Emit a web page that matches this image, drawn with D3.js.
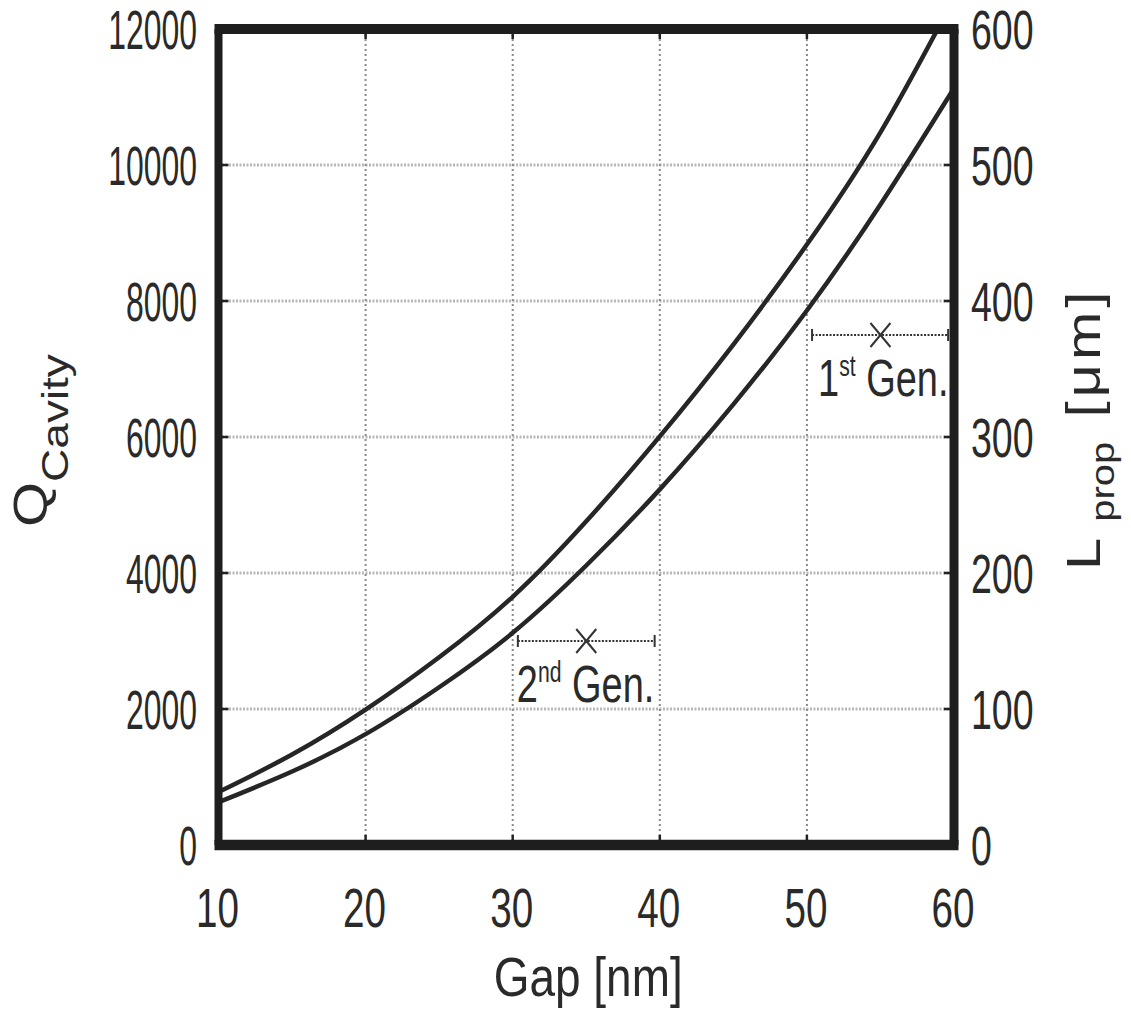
<!DOCTYPE html>
<html><head><meta charset="utf-8">
<script src="https://cdn.jsdelivr.net/npm/d3@7"></script>
<style>
body{margin:0;background:#fff}
svg{display:block}
text{font-family:"Liberation Sans",Arial,Helvetica,sans-serif;fill:#2a2a2a}
</style>
</head><body>
<svg id="chart" width="1131" height="1034"></svg>
<script>
// ---- data ----
const gapNm   = [10, 15, 20, 25, 30, 35, 40, 45, 50, 55, 60];
const qCavity = [780, 1330, 1990, 2760, 3650, 4760, 6010, 7360, 8830, 10480, 12450];
const lProp   = [31.5, 54, 81.5, 116, 156, 205.5, 261.5, 324, 393, 471, 556.5]; // µm
const xTicks  = [10, 20, 30, 40, 50, 60];
const qTicks  = [0, 2000, 4000, 6000, 8000, 10000, 12000];
const lTicks  = [0, 100, 200, 300, 400, 500, 600];
const genLabels  = ["2nd", "1st"];
const genCenter  = [35, 55];
const genLo      = [30.35, 50.35];
const genHi      = [39.65, 59.6];
const genQ       = [3000, 7500];

// ---- layout ----
const L = 218.5, R = 954, T = 29, B = 845;
const svg = d3.select("#chart");
const x  = d3.scaleLinear().domain([10, 60]).range([L, R]);
const yQ = d3.scaleLinear().domain([0, 12000]).range([B, T]);
const yL = d3.scaleLinear().domain([0, 600]).range([B, T]);

svg.append("defs").append("clipPath").attr("id", "plotclip")
  .append("rect").attr("x", L).attr("y", T).attr("width", R - L).attr("height", B - T);

// grid
const grid = svg.append("g");
grid.selectAll("line.h").data(qTicks.filter(d => d > 0 && d < 12000)).join("line")
  .attr("x1", L).attr("x2", R).attr("y1", d => yQ(d)).attr("y2", d => yQ(d))
  .attr("stroke", "#b8b8b8").attr("stroke-width", 3).attr("stroke-dasharray", "2,1.5");
grid.selectAll("line.v").data(xTicks.filter(d => d > 10 && d < 60)).join("line")
  .attr("y1", T).attr("y2", B).attr("x1", d => x(d)).attr("x2", d => x(d))
  .attr("stroke", "#8a8a8a").attr("stroke-width", 2).attr("stroke-dasharray", "2,3");

// curves
const lineQ = d3.line().x((d, i) => x(gapNm[i])).y(d => yQ(d)).curve(d3.curveNatural);
const lineL = d3.line().x((d, i) => x(gapNm[i])).y(d => yL(d)).curve(d3.curveNatural);
const curves = svg.append("g").attr("clip-path", "url(#plotclip)");
curves.append("path").attr("d", lineQ(qCavity)).attr("fill", "none")
  .attr("stroke", "#262626").attr("stroke-width", 4.5);
curves.append("path").attr("d", lineL(lProp)).attr("fill", "none")
  .attr("stroke", "#262626").attr("stroke-width", 4.5);

// generation markers
const labelShift = [-1, 6];
genLabels.forEach((lab, i) => {
  const g = svg.append("g");
  const yy = yQ(genQ[i]);
  g.append("line").attr("x1", x(genLo[i])).attr("x2", x(genHi[i])).attr("y1", yy).attr("y2", yy)
    .attr("stroke", "#333").attr("stroke-width", 2).attr("stroke-dasharray", "2,1.5");
  [genLo[i], genHi[i]].forEach(v => {
    g.append("line").attr("x1", x(v)).attr("x2", x(v)).attr("y1", yy - 6).attr("y2", yy + 6)
      .attr("stroke", "#333").attr("stroke-width", 2);
  });
  const cx = x(genCenter[i]);
  g.append("line").attr("x1", cx - 10).attr("x2", cx + 10).attr("y1", yy - 12).attr("y2", yy + 12)
    .attr("stroke", "#333").attr("stroke-width", 2);
  g.append("line").attr("x1", cx - 10).attr("x2", cx + 10).attr("y1", yy + 12).attr("y2", yy - 12)
    .attr("stroke", "#333").attr("stroke-width", 2);
  const tg = svg.append("g").attr("transform", `translate(${x(genLo[i]) + labelShift[i]},${yy + 61}) scale(0.73,1)`);
  const t = tg.append("text").attr("font-size", 52);
  t.append("tspan").text(lab.slice(0, 1));
  t.append("tspan").attr("font-size", 29).attr("dy", -20).text(lab.slice(1));
  t.append("tspan").attr("dy", 20).text(" Gen.");
});

// ticks (inward)
const tk = svg.append("g").attr("stroke", "#222").attr("stroke-width", 2.5);
xTicks.forEach(v => {
  tk.append("line").attr("x1", x(v)).attr("x2", x(v)).attr("y1", B).attr("y2", B - 10);
  tk.append("line").attr("x1", x(v)).attr("x2", x(v)).attr("y1", T).attr("y2", T + 10);
});
qTicks.forEach(v => {
  tk.append("line").attr("x1", L).attr("x2", L + 10).attr("y1", yQ(v)).attr("y2", yQ(v));
});
lTicks.forEach(v => {
  tk.append("line").attr("x1", R).attr("x2", R - 10).attr("y1", yL(v)).attr("y2", yL(v));
});

// border
const bd = svg.append("g").attr("stroke", "#1e1e1e");
bd.append("line").attr("x1", L - 4).attr("x2", R + 4.5).attr("y1", T).attr("y2", T).attr("stroke-width", 10);
bd.append("line").attr("x1", L - 4).attr("x2", R + 4.5).attr("y1", B).attr("y2", B).attr("stroke-width", 10.5);
bd.append("line").attr("x1", L).attr("x2", L).attr("y1", T).attr("y2", B).attr("stroke-width", 8);
bd.append("line").attr("x1", R).attr("x2", R).attr("y1", T).attr("y2", B).attr("stroke-width", 9);

// tick labels (narrow digits)
const FS = 56, half = 0.358 * FS;
function label(px, py, str, anchor, fs, sx) {
  svg.append("g").attr("transform", `translate(${px},${py}) scale(${sx},1)`)
    .append("text").attr("font-size", fs).attr("text-anchor", anchor).text(str);
}
qTicks.forEach(v => label(197, yQ(v) + half, String(v), "end", FS, 0.57));
lTicks.forEach(v => label(971, yL(v) + half, String(v), "start", FS, 0.67));
xTicks.forEach(v => label(x(v) - 1, 927, String(v), "middle", FS, 0.69));

// axis titles
label((L + R) / 2 + 2, 996, "Gap [nm]", "middle", 56, 0.82);

const SXT = 0.82;
const qt = svg.append("g").attr("transform", `translate(47,527) scale(${SXT},1) rotate(-90)`)
  .append("text").attr("font-size", 58).attr("text-anchor", "start");
qt.append("tspan").text("Q");
qt.append("tspan").attr("font-size", 46).attr("dy", 26).text("Cavity");

const lt = svg.append("g").attr("transform", `translate(1100,570) scale(${SXT},1) rotate(-90)`)
  .append("text").attr("font-size", 58).attr("text-anchor", "start");
lt.append("tspan").text("L");
lt.append("tspan").attr("font-size", 40).attr("dx", 16).attr("dy", 17).text("prop");
lt.append("tspan").attr("dy", -17).attr("dx", 4).attr("letter-spacing", 4).text(" [μm]");
</script>
</body></html>
